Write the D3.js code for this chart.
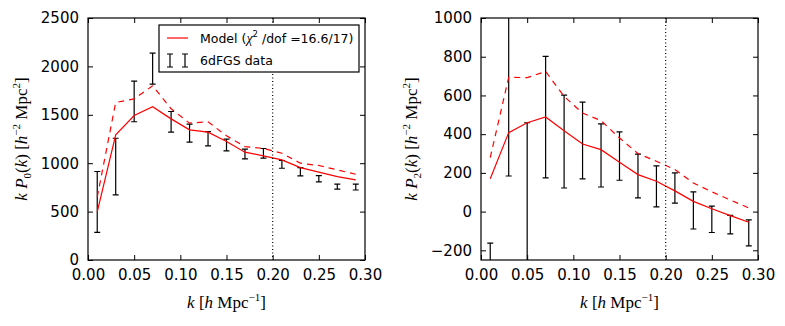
<!DOCTYPE html>
<html>
<head>
<meta charset="utf-8">
<script src="https://cdn.jsdelivr.net/npm/d3@7"></script>
<style>
  body { margin: 0; background: #fff; }
  svg text { font-family: "DejaVu Sans", sans-serif; }
  .math { font-family: "Liberation Serif", "DejaVu Serif", serif; }
</style>
</head>
<body>
<div id="chart"></div>
<script>
// wavenumber bins
var kVals = [0.01, 0.03, 0.05, 0.07, 0.09, 0.11, 0.13, 0.15, 0.17, 0.19, 0.21, 0.23, 0.25, 0.27, 0.29];

// monopole
var p0Data = [600, 965, 1638, 1977, 1428, 1310, 1253, 1188, 1095, 1102, 988, 912, 840, 758, 753];
var p0Err = [314, 293, 210, 160, 106, 93, 74, 60, 50, 50, 40, 43, 32, 25, 30];
var p0Model = [497, 1293, 1493, 1583, 1458, 1345, 1321, 1224, 1114, 1076, 1034, 955, 907, 862, 828];
var p0ModelAlt = [650, 1627, 1665, 1800, 1562, 1414, 1427, 1283, 1172, 1152, 1103, 1000, 976, 931, 886];

// quadrupole
var p2Data = [-450, 700, 50, 488, 362, 367, 290, 287, 184, 130, 122, 6, -40, -67, -110];
var p2Err = [287, 516, 409, 314, 240, 198, 163, 125, 113, 106, 78, 96, 68, 48, 67];
var p2Model = [170, 408, 459, 489, 418, 349, 320, 255, 191, 157, 107, 53, 15, -21, -55];
var p2ModelAlt = [279, 694, 692, 724, 595, 509, 470, 380, 300, 260, 217, 148, 102, 60, 19];

var xTicks = [0, 0.05, 0.1, 0.15, 0.2, 0.25, 0.3];
var p0Ticks = [0, 500, 1000, 1500, 2000, 2500];
var p2Ticks = [-200, 0, 200, 400, 600, 800, 1000];
var kMax = 0.2;

var W = 785, H = 326;
var svg = d3.select("#chart").append("svg")
  .attr("width", W)
  .attr("height", H);

function drawPanel(opts) {
  var left = opts.left, top = 18, width = 277, height = 242;
  var g = svg.append("g").attr("transform", "translate(" + left + "," + top + ")");

  var x = d3.scaleLinear().domain([0, 0.3]).range([0, width]);
  var y = d3.scaleLinear().domain(opts.yDomain).range([height, 0]);

  g.append("clipPath").attr("id", opts.id + "clip")
    .append("rect").attr("width", width).attr("height", height);

  var plot = g.append("g").attr("clip-path", "url(#" + opts.id + "clip)");

  // error bars
  var eb = plot.append("g").attr("stroke", "#000").attr("stroke-width", 1.2).attr("fill", "none");
  kVals.forEach(function (k, i) {
    var cx = x(k), y1 = y(opts.data[i] + opts.err[i]), y2 = y(opts.data[i] - opts.err[i]);
    eb.append("path")
      .attr("d", "M" + cx + "," + y1 + "V" + y2 +
                 "M" + (cx - 3) + "," + y1 + "H" + (cx + 3) +
                 "M" + (cx - 3) + "," + y2 + "H" + (cx + 3));
  });

  var line = d3.line().x(function (d, i) { return x(kVals[i]); }).y(function (d) { return y(d); });

  plot.append("path").datum(opts.model)
    .attr("d", line).attr("fill", "none").attr("stroke", "#ff0000").attr("stroke-width", 1.2);
  plot.append("path").datum(opts.modelAlt)
    .attr("d", line).attr("fill", "none").attr("stroke", "#ff0000").attr("stroke-width", 1.2)
    .attr("stroke-dasharray", "6,5");

  // kmax marker
  plot.append("line")
    .attr("x1", x(kMax)).attr("x2", x(kMax)).attr("y1", 0).attr("y2", height)
    .attr("stroke", "#000").attr("stroke-width", 1.2).attr("stroke-dasharray", "1,2.5");

  // axes, ticks inward on all sides
  var fmtX = d3.format(".2f");
  var fmtY = function (d) { return d < 0 ? "\u2212" + Math.abs(d) : String(d); };
  g.append("g").attr("class", "axis").attr("transform", "translate(0," + height + ")")
    .call(d3.axisBottom(x).tickValues(xTicks).tickFormat(fmtX).tickSize(-5).tickPadding(9));
  g.append("g").attr("class", "axis")
    .call(d3.axisTop(x).tickValues(xTicks).tickFormat("").tickSize(-5));
  g.append("g").attr("class", "axis")
    .call(d3.axisLeft(y).tickValues(opts.yTicks).tickFormat(fmtY).tickSize(-5).tickPadding(9));
  g.append("g").attr("class", "axis").attr("transform", "translate(" + width + ",0)")
    .call(d3.axisRight(y).tickValues(opts.yTicks).tickFormat("").tickSize(-5));

  g.selectAll(".axis .domain").remove();
  g.selectAll(".axis text").attr("font-size", 15).attr("fill", "#000")
    .style("font-family", "DejaVu Sans, sans-serif");
  g.selectAll(".axis line").attr("stroke", "#000");

  g.append("rect").attr("width", width).attr("height", height)
    .attr("fill", "none").attr("stroke", "#000").attr("stroke-width", 1.2);

  // x label
  var xl = g.append("text").attr("class", "math")
    .attr("x", width / 2).attr("y", 290).attr("text-anchor", "middle").attr("font-size", 17);
  xl.append("tspan").attr("font-style", "italic").text("k");
  xl.append("tspan").text(" [");
  xl.append("tspan").attr("font-style", "italic").text("h");
  xl.append("tspan").text(" Mpc");
  xl.append("tspan").attr("font-size", 11).attr("dy", -7).text("\u22121");
  xl.append("tspan").attr("dy", 7).text("]");

  // y label
  var yl = g.append("text").attr("class", "math")
    .attr("transform", "translate(" + opts.ylabX + "," + (height / 2) + ") rotate(-90)")
    .attr("text-anchor", "middle").attr("font-size", 17);
  yl.append("tspan").attr("font-style", "italic").text("k P");
  yl.append("tspan").attr("font-size", 11).attr("dy", 4).text(opts.sub);
  yl.append("tspan").attr("dy", -4).text("(");
  yl.append("tspan").attr("font-style", "italic").text("k");
  yl.append("tspan").text(") [");
  yl.append("tspan").attr("font-style", "italic").text("h");
  yl.append("tspan").attr("font-size", 11).attr("dy", -7).text("\u22122");
  yl.append("tspan").attr("dy", 7).text(" Mpc");
  yl.append("tspan").attr("font-size", 11).attr("dy", -7).text("2");
  yl.append("tspan").attr("dy", 7).text("]");

  return { g: g, x: x, y: y };
}

var p0 = drawPanel({ id: "p0", left: 88, yDomain: [0, 2500], yTicks: p0Ticks,
  data: p0Data, err: p0Err, model: p0Model, modelAlt: p0ModelAlt, sub: "0", ylabX: -61 });
drawPanel({ id: "p2", left: 481, yDomain: [-250, 1000], yTicks: p2Ticks,
  data: p2Data, err: p2Err, model: p2Model, modelAlt: p2ModelAlt, sub: "2", ylabX: -64 });

// legend
var lg = p0.g.append("g").attr("transform", "translate(71,7)");
lg.append("rect").attr("width", 200).attr("height", 47)
  .attr("fill", "#fff").attr("stroke", "#000").attr("stroke-width", 1.2);
lg.append("line").attr("x1", 8).attr("x2", 29).attr("y1", 13).attr("y2", 13)
  .attr("stroke", "#ff0000").attr("stroke-width", 1.2);
var t1 = lg.append("text").attr("x", 41).attr("y", 18).attr("font-size", 12.5);
t1.append("tspan").text("Model (");
t1.append("tspan").attr("class", "math").attr("font-style", "italic").attr("font-size", 14).text("\u03c7");
t1.append("tspan").attr("font-size", 8.5).attr("dy", -6).text("2");
t1.append("tspan").attr("dy", 6).text(" /dof =16.6/17)");
[11, 26].forEach(function (cx) {
  lg.append("path")
    .attr("d", "M" + cx + ",29V42M" + (cx - 3) + ",29H" + (cx + 3) + "M" + (cx - 3) + ",42H" + (cx + 3))
    .attr("stroke", "#000").attr("stroke-width", 1.2).attr("fill", "none");
});
lg.append("text").attr("x", 41).attr("y", 40).attr("font-size", 12.5).text("6dFGS data");
</script>
</body>
</html>
